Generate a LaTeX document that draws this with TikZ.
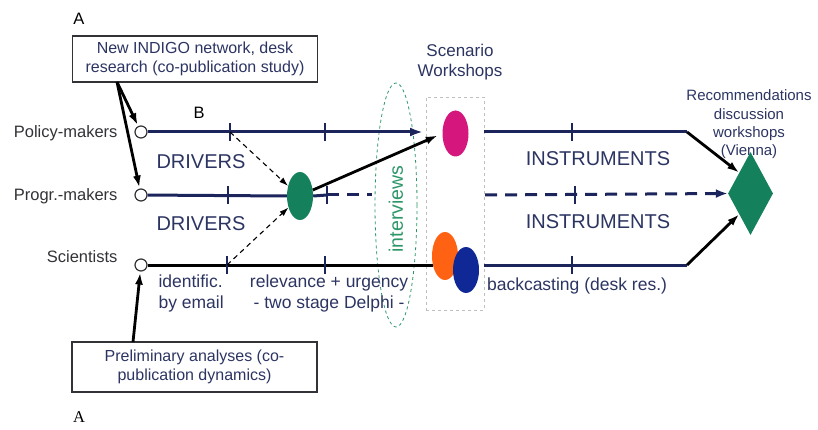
\documentclass[tikz,border=0pt]{standalone}
\usepackage{fontspec}
\setmainfont{Liberation Sans}
\newfontfamily\serifA{Liberation Serif}
\usetikzlibrary{shapes.geometric,arrows.meta}

\definecolor{linenavy}{RGB}{28,36,92}
\definecolor{navytext}{RGB}{44,52,98}
\definecolor{labelgray}{RGB}{50,50,55}
\definecolor{drvgreen}{RGB}{20,128,92}
\definecolor{wsmagenta}{RGB}{212,22,125}
\definecolor{wsorange}{RGB}{255,98,18}
\definecolor{wsblue}{RGB}{16,40,150}
\definecolor{intgreen}{RGB}{45,150,105}

\tikzset{
  role/.style={text=labelgray,font=\fontsize{16.5}{19}\selectfont},
  actor/.style={circle,draw=labelgray,line width=1.2pt,fill=white,minimum size=12pt,inner sep=0pt},
  infobox/.style={draw=labelgray,line width=1.1pt,text=navytext,align=center,
    font=\fontsize{16}{19}\selectfont,minimum width=245pt,minimum height=46pt,inner sep=0pt},
  phase/.style={text=navytext,font=\fontsize{20}{22}\selectfont},
  note/.style={text=navytext,font=\fontsize{17.5}{21}\selectfont},
  blob/.style={ellipse,minimum width=26pt,minimum height=48pt,inner sep=0pt},
  mainrule/.style={draw=linenavy,line width=3pt},
  tickmark/.style={draw=linenavy,line width=1.2pt},
  bigarrow/.style={line width=2.8pt,-{Latex[length=12pt,width=8pt]}},
  hintarrow/.style={line width=1.1pt,dash pattern=on 5pt off 4pt,-{Latex[length=9pt,width=6pt]}}
}

\begin{document}
\begin{tikzpicture}[x=1pt,y=-1pt]
\useasboundingbox (0,0) rectangle (818,430);

% actors
\node[role,anchor=east] (polname) at (121,133) {Policy-makers};
\node[role,anchor=east] (progname) at (121,196) {Progr.-makers};
\node[role,anchor=east] (sciname) at (121,257) {Scientists};
\node[actor] (pol) at (141,132) {};
\node[actor] (prog) at (141,195) {};
\node[actor] (sci) at (141,265) {};

% boxes and letters
\node[font=\fontsize{16.5}{18}\selectfont] (lblA) at (79,18.5) {A};
\node[infobox] (box1) at (195,59) {New INDIGO network, desk\\research (co-publication study)};
\node[infobox,minimum height=50pt] (box2) at (194.5,367) {Preliminary analyses (co-\\publication dynamics)};
\node[font=\serifA\fontsize{16.5}{18}\selectfont] (lblA2) at (79,417.5) {A};
\node[font=\fontsize{16.5}{18}\selectfont] (lblB) at (199,112.5) {B};

% workshops
\node[text=navytext,align=center,font=\fontsize{17}{20}\selectfont] (scen) at (460,62) {Scenario\\Workshops};
\node[draw=gray!50,dashed,line width=0.8pt,minimum width=58pt,minimum height=213pt,inner sep=0pt] (ws) at (455,203.5) {};
\node[blob,fill=drvgreen] (drv) at (300,196) {};
\node[blob,fill=wsmagenta,minimum height=46pt] (mag) at (455.5,133.5) {};
\node[blob,fill=wsorange] (org) at (445,256) {};
\node[blob,fill=wsblue,minimum height=46pt] (blu) at (466,270) {};

% interviews
\node[draw=intgreen,dashed,line width=0.8pt,ellipse,minimum width=42pt,minimum height=244pt,inner sep=0pt] (intring) at (396,205) {};
\node[rotate=90,text=intgreen,font=\fontsize{19.5}{22}\selectfont] (intv) at (396,209) {interviews};

% recommendations
\node[text=navytext,align=center,font=\fontsize{15}{18.3}\selectfont] (recotxt) at (749,124.5) {Recommendations\\discussion\\workshops\\(Vienna)};
\node[diamond,fill=drvgreen,minimum width=45pt,minimum height=83pt,shape aspect=0.54,inner sep=0pt] (reco) at (750.5,193.5) {};

% labels along the lines
\node[phase] (drv1) at (201,161.5) {DRIVERS};
\node[phase] (drv2) at (201,224) {DRIVERS};
\node[phase] (ins1) at (598,159) {INSTRUMENTS};
\node[phase] (ins2) at (598,222) {INSTRUMENTS};
\node[note,align=left,anchor=west] (ident) at (155,293) {identific.\\by email};
\node[note,align=center] (relev) at (329,293) {relevance + urgency\\- two stage Delphi -};
\node[note] (back) at (577,286) {backcasting (desk res.)};

% line ends
\coordinate (polend) at (423,132);
\coordinate (pol2) at (484,132);
\coordinate (polbend) at (687,132);
\coordinate (progtick) at (327,195);
\coordinate (progcut) at (372,195);
\coordinate (prog2) at (485,195);
\coordinate (sciend) at (433,265);
\coordinate (sci2) at (484,265);
\coordinate (scibend) at (687,265);
\coordinate (b1out) at (117,82);
\coordinate (b2out) at (133,342);
\coordinate (hint1) at (230,132);
\coordinate (hint2) at (227,265);

% policy-makers line
\draw[mainrule,-{Latex[length=13pt,width=9pt]},color=linenavy] (pol) -- (polend);
\draw[mainrule] (pol2) -- (polbend);
\draw[bigarrow] (polbend) -- (reco.north west);

% programme-makers line
\draw[mainrule] (prog) -- (drv.west);
\draw[mainrule] (drv.east) -- (progtick);
\draw[mainrule,dash pattern=on 12pt off 8pt] (progtick) -- (progcut);
\draw[mainrule,dash pattern=on 12pt off 8pt,-{Latex[length=12pt,width=9pt]},color=linenavy] (prog2) -- (reco.west);

% scientists line
\draw[line width=3pt] (sci) -- (sciend);
\draw[mainrule] (sci2) -- (scibend);
\draw[bigarrow] (scibend) -- (reco.south west);

% ticks
\foreach \x/\y in {230/132,325/132,572/132,228/195,327/195,575/195,227/265,325/265,572/265}
  \draw[tickmark] (\x,\y-9) -- (\x,\y+9);

% arrows
\draw[bigarrow,shorten >=1pt] (b1out) -- (pol);
\draw[bigarrow,shorten >=1pt] (b1out) -- (prog);
\draw[bigarrow,shorten >=1pt] (b2out) -- (sci);
\draw[hintarrow] (hint1) -- (drv.140);
\draw[hintarrow] (hint2) -- (drv.225);
\draw[bigarrow,shorten >=5pt] (drv.25) -- (mag.west);
\end{tikzpicture}
\end{document}
